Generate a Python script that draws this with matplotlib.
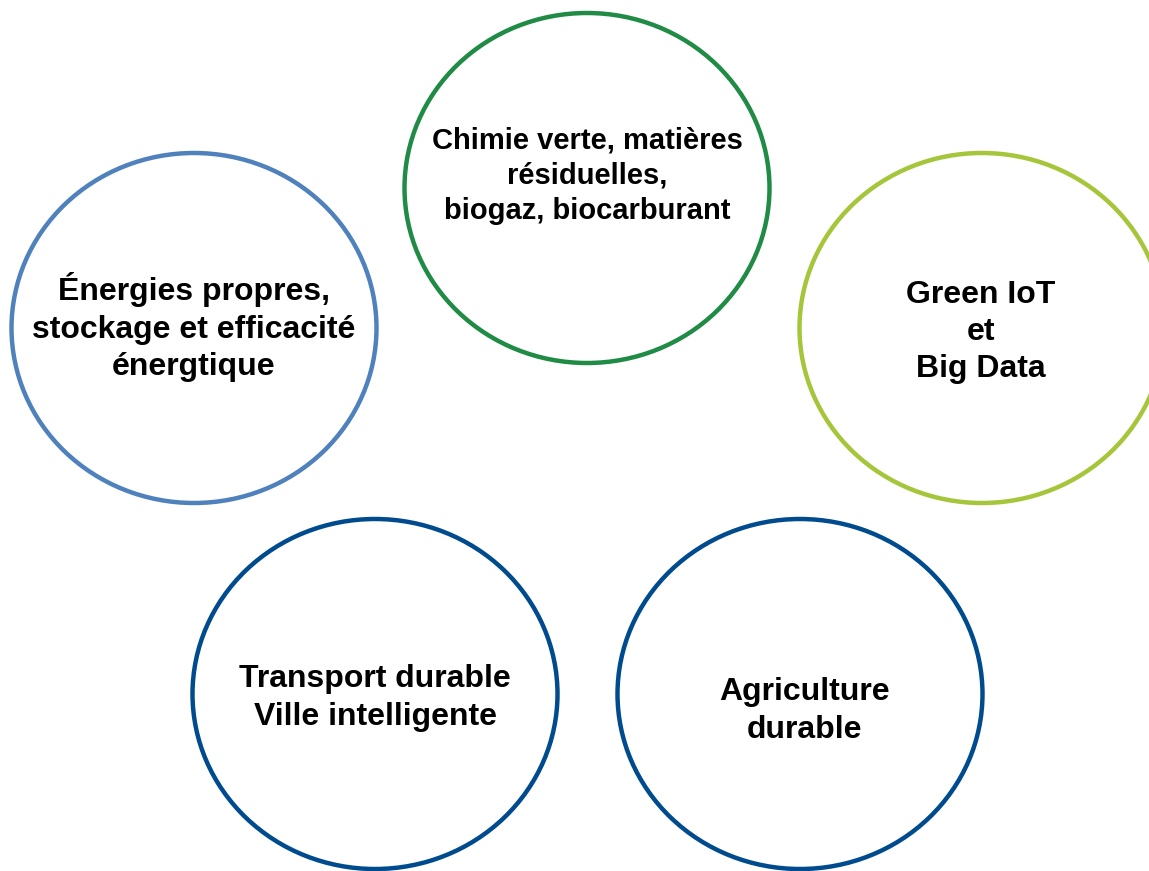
import matplotlib.pyplot as plt
from matplotlib.patches import Ellipse

# Five themes, each drawn as an outlined circle with a centred label
labels = [
    "Chimie verte, matières\nrésiduelles,\nbiogaz, biocarburant",
    "Énergies propres,\nstockage et efficacité\nénergtique",
    "Green IoT\net\nBig Data",
    "Transport durable\nVille intelligente",
    "Agriculture\ndurable",
]
centers_x = [587, 194, 982, 375, 800]
centers_y = [188, 328, 328, 694, 694]
text_x = [587, 194, 981, 375, 805]
text_y = [176, 327, 332, 698, 711]
text_sizes = [21, 23, 23, 23, 23]
colors = ['#1f8b45', '#4f81bd', '#a5c63b', '#004b8d', '#004b8d']

fig = plt.figure(figsize=(11.49, 8.71), dpi=100)
ax = fig.add_axes([0, 0, 1, 1])
ax.set_xlim(0, 1149)
ax.set_ylim(871, 0)
ax.axis('off')

for i in range(len(labels)):
    ax.add_patch(Ellipse(
        (centers_x[i], centers_y[i]), 365, 350,
        facecolor='white', edgecolor=colors[i], linewidth=3.2
    ))
    ax.text(
        text_x[i], text_y[i], labels[i],
        ha='center', va='center', ma='center',
        fontsize=text_sizes[i], fontweight='bold', family='Liberation Sans',
        linespacing=1.32, color='black'
    )

fig.savefig('out.png', dpi=100)
